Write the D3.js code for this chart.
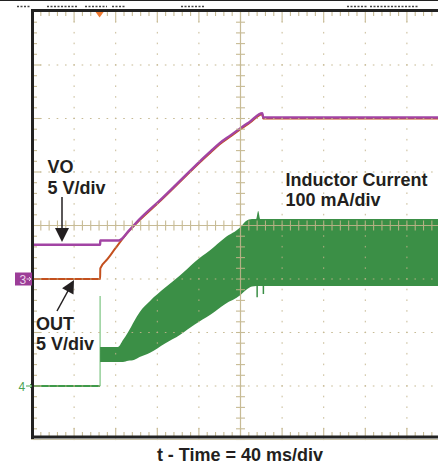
<!DOCTYPE html>
<html><head><meta charset="utf-8">
<script src="https://cdn.jsdelivr.net/npm/d3@7"></script>
<style>html,body{margin:0;padding:0;background:#fff;} svg{display:block}</style>
</head><body>
<svg id="c" width="438" height="464"></svg>
<script>
// ---------------- data ----------------
const timeDomain = [0, 400];          // ms : 40 ms/div, 10 divisions
const divDomain = [4, -4];            // vertical screen divisions (top -> bottom)
const voltsPerDiv = 5;
const mAPerDiv = 100;
const ch3GroundDiv = -1.0;            // channel 3 ground marker (OUT / VO)
const ch4GroundDiv = -3.0;            // channel 4 ground marker (inductor current)
const triggerTime = 65;               // ms

const voTime  = [0, 65, 65.2, 83, 93, 103, 123, 142, 161, 171, 180, 190, 200, 209, 221, 221.8, 400];
const voVolts = [3.2, 3.2, 3.6, 3.6, 4.55, 5.6, 7.4, 9.2, 11.0, 11.9, 12.7, 13.4, 14.1, 14.7, 15.5, 15.1, 15.1];

const outTime  = [0, 65, 65.2, 72, 80, 92, 103, 123, 142, 161, 171, 180, 190, 200, 209, 221, 221.8, 400];
const outVolts = [0, 0, 1.0, 1.85, 2.9, 4.4, 5.5, 7.3, 9.1, 10.9, 11.8, 12.6, 13.3, 14.0, 14.6, 15.4, 15.0, 15.0];

const ilBaseTime = [0, 65];
const ilBase = [0, 0];
const ilStepSpike = 168;              // mA, thin spike at the enable step
const ilTime = [65, 82, 87, 92, 98, 103, 113, 127, 142, 156, 171, 185, 200, 205, 211, 215, 217, 219, 400];
const ilMax  = [73, 73, 86, 101, 122, 138, 159, 183, 207, 232, 254, 277, 297, 308, 312, 312, 327, 312, 312];
const ilMin  = [45, 45, 45, 47, 49, 54, 62, 79, 96, 115, 133, 153, 170, 179, 186, 187, 187, 187, 187];
const ilDipTime = [216, 222];
const ilDipMin  = [166, 172];

const labels = {
  vo: ["VO", "5 V/div"],
  out: ["OUT", "5 V/div"],
  il: ["Inductor Current", "100 mA/div"],
  xTitle: "t - Time = 40 ms/div"
};

// ---------------- scales ----------------
const x = d3.scaleLinear().domain(timeDomain).range([32.5, 448.5]);
const y = d3.scaleLinear().domain(divDomain).range([11.5, 439.5]);
const yV = v => y(v / voltsPerDiv + ch3GroundDiv);
const yI = i => y(i / mAPerDiv + ch4GroundDiv);

const svg = d3.select("#c");
const W = 438;
const tan = "#c2b48a";
const font = "'Liberation Sans', Arial, Helvetica, sans-serif";

svg.append("rect").attr("width", W).attr("height", 464).attr("fill", "#fff");
// top hairline
svg.append("line").attr("x1", 0).attr("x2", W).attr("y1", 0.5).attr("y2", 0.5).attr("stroke", "#222");
// cut-off header text fragments
[[17, 30], [47, 77], [85, 107], [112, 126], [181, 204], [347, 367], [370, 418]].forEach(r => {
  svg.append("line").attr("x1", r[0]).attr("x2", r[1]).attr("y1", 6.5).attr("y2", 6.5)
    .attr("stroke", "#444").attr("stroke-width", 1.5).attr("stroke-dasharray", "2,1.5");
});

const traces = svg.append("g");
const lineGen = d3.line().x(d => d[0]).y(d => d[1]);
const curveGen = d3.line().x(d => d[0]).y(d => d[1]).curve(d3.curveMonotoneX);

// inductor current: baseline, step spike, switching band
traces.append("path")
  .attr("d", lineGen(ilBaseTime.map((t, i) => [x(t), yI(ilBase[i])])))
  .attr("fill", "none").attr("stroke", "#3f9a4a").attr("stroke-width", 2);
traces.append("line")
  .attr("x1", x(triggerTime)).attr("x2", x(triggerTime))
  .attr("y1", yI(0)).attr("y2", yI(ilStepSpike))
  .attr("stroke", "#7cc481").attr("stroke-width", 1.2);
const area = d3.area()
  .x((d, i) => x(ilTime[i]))
  .y0((d, i) => yI(ilMin[i]))
  .y1((d, i) => yI(ilMax[i]))
  .curve(d3.curveMonotoneX);
traces.append("path").attr("d", area(ilTime)).attr("fill", "#3b8f46");
ilDipTime.forEach((t, i) => {
  traces.append("line").attr("x1", x(t)).attr("x2", x(t))
    .attr("y1", yI(190)).attr("y2", yI(ilDipMin[i]))
    .attr("stroke", "#3b8f46").attr("stroke-width", 1.5);
});

// OUT (orange) then VO (purple)
traces.append("path")
  .attr("d", curveGen(outTime.map((t, i) => [x(t), yV(outVolts[i])])))
  .attr("fill", "none").attr("stroke", "#c4501e").attr("stroke-width", 2);
traces.append("path")
  .attr("d", curveGen(voTime.map((t, i) => [x(t), yV(voVolts[i])])))
  .attr("fill", "none").attr("stroke", "#a244a4").attr("stroke-width", 2.4);

// ---------------- graticule (drawn over traces) ----------------
const grid = svg.append("g").attr("opacity", 0.9);
const xMajor = d3.range(1, 10);
const yMajor = d3.range(-3, 4);
const xMinor = d3.range(0, 50.01, 1).map(k => k * 8);     // ms, 5 per division
const yMinor = d3.range(-4, 4.001, 0.2);
xMajor.filter(k => k !== 5).forEach(k => {
  const t = k * 40;
  yMinor.forEach(v => grid.append("rect").attr("x", x(t) - 0.5).attr("y", y(v) - 1)
    .attr("width", 1).attr("height", 1.6).attr("fill", tan));
});
yMajor.filter(v => v !== 0).forEach(v => {
  xMinor.forEach(t => grid.append("rect").attr("x", x(t) - 0.8).attr("y", y(v) - 0.5)
    .attr("width", 1.6).attr("height", 1).attr("fill", tan));
});
// center crosshair
grid.append("line").attr("x1", x(200)).attr("x2", x(200)).attr("y1", 11).attr("y2", 437)
  .attr("stroke", tan).attr("stroke-width", 1.2);
grid.append("line").attr("x1", 33).attr("x2", W).attr("y1", y(0)).attr("y2", y(0))
  .attr("stroke", tan).attr("stroke-width", 1.2);
yMinor.forEach(v => grid.append("line").attr("x1", x(200) - 4.5).attr("x2", x(200) + 4.5)
  .attr("y1", y(v)).attr("y2", y(v)).attr("stroke", tan).attr("stroke-width", 1.1));
xMinor.forEach(t => grid.append("line").attr("x1", x(t)).attr("x2", x(t))
  .attr("y1", y(0) - 5).attr("y2", y(0) + 5).attr("stroke", tan).attr("stroke-width", 1.1));

// frame ticks
xMinor.forEach(t => {
  const major = t % 40 === 0;
  grid.append("line").attr("x1", x(t)).attr("x2", x(t)).attr("y1", 11).attr("y2", major ? 22 : 16)
    .attr("stroke", tan).attr("stroke-width", 1.1);
  grid.append("line").attr("x1", x(t)).attr("x2", x(t)).attr("y1", 436).attr("y2", major ? 428 : 432)
    .attr("stroke", tan).attr("stroke-width", 1.1);
});
yMinor.forEach(v => {
  const major = Math.abs(v - Math.round(v)) < 1e-6;
  grid.append("line").attr("x1", 33).attr("x2", major ? 41 : 37).attr("y1", y(v)).attr("y2", y(v))
    .attr("stroke", tan).attr("stroke-width", 1.1);
});

// frame
svg.append("line").attr("x1", 32.5).attr("x2", 32.5).attr("y1", 9).attr("y2", 439).attr("stroke", "#222").attr("stroke-width", 3);
svg.append("line").attr("x1", 31).attr("x2", W).attr("y1", 10.5).attr("y2", 10.5).attr("stroke", "#222").attr("stroke-width", 3);
svg.append("line").attr("x1", 31).attr("x2", W).attr("y1", 437).attr("y2", 437).attr("stroke", "#222").attr("stroke-width", 3);
svg.append("line").attr("x1", 31).attr("x2", W).attr("y1", 439.5).attr("y2", 439.5).attr("stroke", "#c9c2a8").attr("stroke-width", 1);

// trigger marker
const tx = x(triggerTime) - 0.5;
svg.append("path").attr("d", `M${tx - 4},12 L${tx + 4},12 L${tx},17.5 Z`).attr("fill", "#f07a30");

// channel ground markers
svg.append("rect").attr("x", 15).attr("y", y(ch3GroundDiv) - 6.5).attr("width", 17).attr("height", 13).attr("fill", "#9c3d98");
svg.append("text").attr("x", 19.5).attr("y", y(ch3GroundDiv) + 4.5).attr("font-family", font).attr("font-size", 12)
  .attr("fill", "#ead3ea").text("3");
svg.append("path").attr("d", `M26.5,${y(ch3GroundDiv)} L31,${y(ch3GroundDiv)} M29,${y(ch3GroundDiv) - 2} L31,${y(ch3GroundDiv)} L29,${y(ch3GroundDiv) + 2}`)
  .attr("stroke", "#ead3ea").attr("fill", "none").attr("stroke-width", 1);
svg.append("text").attr("x", 18.5).attr("y", y(ch4GroundDiv) + 4.5).attr("font-family", font).attr("font-size", 12)
  .attr("fill", "#4aa353").text("4");
svg.append("path").attr("d", `M26,${y(ch4GroundDiv)} L32,${y(ch4GroundDiv)} M30,${y(ch4GroundDiv) - 2} L32,${y(ch4GroundDiv)} L30,${y(ch4GroundDiv) + 2}`)
  .attr("stroke", "#4aa353").attr("fill", "none").attr("stroke-width", 1);

// labels
const txt = (s, px, py, anchor) => svg.append("text").attr("x", px).attr("y", py)
  .attr("font-family", font).attr("font-weight", "bold").attr("font-size", 18)
  .attr("fill", "#231f20").attr("text-anchor", anchor || "start").text(s);
txt(labels.vo[0], 47.5, 173);
txt(labels.vo[1], 47.5, 193.5);
txt(labels.out[0], 36, 330);
txt(labels.out[1], 36, 350);
txt(labels.il[0], 285.5, 186);
txt(labels.il[1], 285.5, 205.5);
txt(labels.xTitle, 240, 461, "middle");

// arrows
svg.append("line").attr("x1", 62).attr("x2", 62).attr("y1", 197).attr("y2", 230).attr("stroke", "#231f20").attr("stroke-width", 1.5);
svg.append("path").attr("d", "M55,228 L69,228 L62,242 Z").attr("fill", "#231f20");
svg.append("line").attr("x1", 57).attr("x2", 69).attr("y1", 311).attr("y2", 289).attr("stroke", "#231f20").attr("stroke-width", 1.5);
svg.append("path").attr("d", "M74,280 L73.5,294.5 L62.1,288.3 Z").attr("fill", "#231f20");
</script>
</body></html>
